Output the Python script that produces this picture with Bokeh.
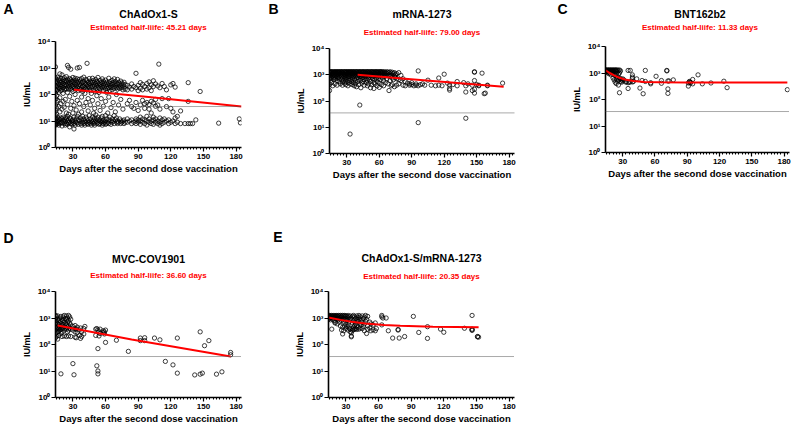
from bokeh.plotting import figure
from bokeh.layouts import column, row
from bokeh.models import Range1d, FixedTicker, Span, CustomJSTickFormatter
from bokeh.core.properties import value
from bokeh.embed import file_html
from bokeh.resources import INLINE

FONT = "Liberation Sans"
X_LABEL = "Days after the second dose vaccination"
Y_LABEL = "IU/mL"
X_MAJOR = [30, 60, 90, 120, 150, 180]
X_MINOR = list(range(15, 186, 3))
Y_MAJOR = [1, 10, 100, 1000, 10000]
THRESHOLD = 35.2

LETTERS = ["A", "B", "C", "D", "E"]
NAMES = ["ChAdOx1-S", "mRNA-1273", "BNT162b2", "MVC-COV1901", "ChAdOx1-S/mRNA-1273"]
HALF_LIVES = ["45.21", "79.00", "11.33", "36.60", "20.35"]

# (day, [IU/mL values read at that day])
A_COLS = [
    (14, [1100, 420, 300, 220, 160, 110, 70, 40, 25, 16, 12, 9.5, 8, 7]),
    (15, [360, 260, 190, 140, 90, 50, 30, 18, 12, 9, 7.5]),
    (16, [450, 300, 210, 150, 60, 14, 10, 8]),
    (17, [380, 250, 180, 120, 35, 12, 9, 7]),
    (18, [600, 330, 230, 170, 75, 22, 11, 8]),
    (19, [400, 280, 200, 140, 45, 13, 9]),
    (20, [550, 320, 230, 160, 28, 12, 8.5, 6.5]),
    (21, [360, 260, 180, 110, 55, 14, 10]),
    (22, [430, 300, 210, 150, 33, 11, 8]),
    (23, [340, 240, 170, 65, 13, 9.5, 7]),
    (24, [470, 310, 220, 160, 20, 12, 8]),
    (25, [1250, 380, 270, 190, 120, 42, 15, 10, 7.5]),
    (26, [1050, 330, 230, 160, 18, 11, 8.5]),
    (27, [400, 280, 200, 85, 13, 9, 6]),
    (28, [900, 360, 250, 170, 30, 12, 8]),
    (29, [310, 220, 150, 55, 10, 7.5]),
    (30, [440, 290, 200, 130, 20, 11, 9]),
    (31, [350, 250, 170, 38, 14, 8, 5]),
    (32, [410, 280, 190, 100, 10, 7]),
    (33, [330, 230, 160, 26, 12, 9]),
    (34, [1000, 390, 270, 180, 60, 15, 8.5]),
    (35, [300, 210, 140, 18, 11, 7.5]),
    (36, [1050, 370, 250, 170, 45, 10]),
    (37, [320, 220, 150, 13, 8]),
    (38, [400, 270, 190, 80, 22, 11, 7]),
    (39, [290, 200, 130, 15, 9]),
    (40, [450, 310, 210, 150, 35, 12, 8]),
    (41, [270, 180, 110, 10, 7]),
    (42, [370, 250, 170, 50, 14, 9]),
    (43, [1500, 330, 220, 150, 12, 8]),
    (44, [290, 200, 70, 24, 10, 7.5]),
    (45, [400, 260, 180, 16, 9]),
    (46, [320, 220, 140, 40, 12, 8]),
    (47, [280, 190, 110, 10, 7]),
    (48, [410, 290, 200, 60, 14, 9]),
    (49, [340, 230, 150, 20, 11, 8]),
    (50, [290, 200, 130, 30, 13, 9, 7]),
    (51, [370, 250, 170, 17, 10]),
    (52, [310, 220, 90, 12, 8]),
    (53, [440, 280, 190, 45, 14, 9]),
    (54, [260, 180, 120, 11, 7.5]),
    (55, [340, 230, 160, 25, 10, 8]),
    (56, [290, 200, 70, 13, 9]),
    (57, [390, 260, 180, 15, 10, 7]),
    (58, [320, 220, 140, 36, 11, 8]),
    (59, [270, 190, 9]),
    (60, [350, 240, 160, 55, 16, 10, 7.5]),
    (61, [290, 200, 120, 12, 8]),
    (62, [240, 170, 20, 9]),
    (63, [410, 270, 180, 80, 11, 8]),
    (64, [310, 210, 140, 14]),
    (65, [260, 180, 32, 10, 7.5]),
    (66, [340, 230, 150, 12, 9]),
    (67, [280, 190, 50, 10]),
    (68, [390, 250, 170, 16, 8]),
    (69, [310, 210, 22, 11]),
    (70, [260, 180, 100, 13, 9]),
    (71, [370, 240, 160, 10, 8]),
    (72, [290, 190, 40, 9]),
    (73, [250, 170, 12]),
    (74, [320, 210, 65, 10, 8]),
    (75, [270, 180, 9]),
    (76, [230, 150, 28, 10]),
    (77, [290, 190, 11, 8]),
    (78, [240, 160, 9]),
    (80, [220, 150, 45, 12, 9]),
    (82, [190, 60, 10]),
    (84, [250, 160, 35, 11, 8]),
    (86, [200, 30, 9]),
    (88, [630, 180, 50, 12, 10, 8]),
    (90, [220, 140, 25, 11, 9]),
    (92, [280, 170, 40, 14, 10, 7.5]),
    (94, [240, 150, 60, 12, 9]),
    (96, [200, 45, 30, 11, 8]),
    (98, [260, 160, 50, 15, 10, 7]),
    (100, [300, 180, 42, 28, 12, 9]),
    (102, [230, 140, 55, 20, 10, 8]),
    (104, [330, 200, 48, 14, 11, 7.5]),
    (106, [250, 65, 36, 12, 9]),
    (108, [210, 40, 10, 8]),
    (109, [1400]),
    (110, [180, 28, 13, 9, 7]),
    (112, [260, 70, 11, 8]),
    (114, [200, 12, 9]),
    (116, [150, 35, 10]),
    (118, [70, 11, 8]),
    (120, [230, 30, 9]),
    (122, [260, 22, 10]),
    (124, [190, 13, 8]),
    (126, [15, 9]),
    (129, [24, 8]),
    (133, [8]),
    (136, [280, 55, 8]),
    (138, [8]),
    (140, [8]),
    (143, [11]),
    (147, [130]),
    (164, [8.3]),
    (183, [12]),
    (184, [8.5]),
]

B_COLS = [
    (14, [1300, 1250, 1100, 900, 700, 420, 250]),
    (15, [1300, 1200, 1000, 800, 600]),
    (16, [1300, 1250, 1100, 950, 750, 500]),
    (17, [1300, 1150, 900, 380]),
    (18, [1300, 1200, 1000, 800, 650]),
    (19, [1300, 1250, 1100, 900, 700, 450]),
    (20, [1300, 1150, 950, 750]),
    (21, [1300, 1250, 1050, 850, 600, 400]),
    (22, [1300, 1200, 1000, 800]),
    (23, [1300, 1250, 1100, 900, 700, 550]),
    (24, [1300, 1150, 950, 450]),
    (25, [1300, 1250, 1050, 850, 650]),
    (26, [1300, 1200, 1000, 750, 520, 400]),
    (27, [1300, 1100, 900, 600]),
    (28, [1300, 1250, 1050, 850, 700, 480]),
    (29, [1300, 1200, 950, 750, 550, 420]),
    (30, [1300, 1250, 1100, 900, 650]),
    (31, [1300, 1150, 1000, 800, 500, 380]),
    (32, [1300, 1250, 1050, 850, 600]),
    (33, [1300, 1200, 950, 700, 450, 5.5]),
    (34, [1300, 1250, 1100, 900, 550]),
    (35, [1300, 1150, 1000, 800, 650, 420]),
    (36, [1300, 1250, 1050, 850, 500]),
    (37, [1300, 1200, 950, 700, 380]),
    (38, [1300, 1100, 900, 600, 450]),
    (39, [1300, 1250, 1000, 750, 350]),
    (40, [1300, 1150, 950, 800, 550]),
    (41, [1300, 1200, 1000, 650, 420]),
    (42, [1300, 1250, 1050, 850, 70]),
    (43, [1300, 1100, 900, 600, 320]),
    (44, [1300, 1200, 950, 750, 480]),
    (45, [1300, 1250, 1000, 800, 550]),
    (46, [1300, 1150, 900, 650, 400]),
    (47, [1300, 1200, 1050, 850]),
    (48, [1300, 1100, 950, 700, 500]),
    (49, [1300, 1250, 1000, 600, 380]),
    (50, [1300, 1150, 900, 750, 450]),
    (51, [1300, 1200, 1050, 650]),
    (52, [1300, 1100, 900, 550, 320]),
    (53, [1300, 1250, 1000, 800, 420]),
    (54, [1300, 1150, 950, 700]),
    (55, [1300, 1200, 850, 500, 300]),
    (56, [1300, 1100, 950, 650, 450]),
    (57, [1300, 1250, 1000, 750]),
    (58, [1300, 1150, 900, 550, 380]),
    (59, [1300, 1200, 1000, 700]),
    (60, [1300, 1100, 850, 480, 330]),
    (61, [1300, 1250, 950, 650]),
    (62, [1300, 1150, 900, 420]),
    (63, [1300, 1200, 1000, 750]),
    (64, [1250, 1050, 600, 380]),
    (65, [1300, 1150, 850]),
    (66, [1200, 950, 500]),
    (67, [1300, 1100, 700]),
    (68, [1250, 900, 450]),
    (69, [1200, 1000, 250]),
    (70, [1300, 850, 600]),
    (71, [1150, 950, 380]),
    (72, [1250, 750, 420]),
    (73, [1100, 650]),
    (74, [1200, 900, 350]),
    (75, [1000, 800]),
    (76, [1100, 700, 400]),
    (78, [1200, 650, 450]),
    (80, [950, 600]),
    (82, [700, 400]),
    (84, [550, 380]),
    (86, [480]),
    (88, [450, 400]),
    (90, [500, 420]),
    (92, [380]),
    (94, [450, 400]),
    (96, [1400, 380, 15]),
    (98, [420]),
    (100, [450]),
    (102, [400]),
    (105, [620]),
    (108, [400]),
    (112, [380]),
    (115, [750, 400]),
    (118, [380]),
    (120, [1050]),
    (123, [480]),
    (125, [400, 260, 300]),
    (128, [420]),
    (132, [550, 380]),
    (138, [500]),
    (140, [380, 220, 22]),
    (142, [450]),
    (146, [400, 250]),
    (148, [1300, 1250, 600, 200, 280]),
    (150, [420]),
    (152, [380, 400]),
    (155, [1150]),
    (157, [190]),
    (158, [200]),
    (160, [380, 400]),
    (174, [480]),
]

C_COLS = [
    (14, [1300, 1250, 1200, 1100]),
    (15, [1300, 1250, 1150]),
    (16, [1300, 1200, 1050]),
    (17, [1300, 1250, 1100, 950]),
    (18, [1300, 1200, 1000]),
    (19, [1300, 1250, 1150, 850]),
    (20, [1300, 1200, 1050]),
    (21, [1300, 1250, 1100, 900, 650]),
    (22, [1300, 1150, 1000, 550]),
    (23, [1300, 1250, 800, 450]),
    (24, [1300, 1200, 950, 600, 400]),
    (25, [1300, 1100, 700, 500]),
    (26, [1250, 900, 550, 350]),
    (27, [1300, 1000, 650, 180]),
    (28, [1200, 600, 480]),
    (29, [550, 450]),
    (30, [600, 500]),
    (31, [550]),
    (33, [450, 480]),
    (35, [1250, 430, 260]),
    (36, [450]),
    (37, [1250, 460]),
    (39, [850, 700, 620, 460]),
    (40, [480]),
    (43, [600]),
    (46, [270]),
    (48, [520]),
    (49, [165]),
    (51, [1250, 480]),
    (56, [430, 390]),
    (61, [750]),
    (66, [520, 410]),
    (71, [1200, 1250]),
    (72, [250, 170, 500]),
    (73, [500]),
    (77, [550]),
    (91, [320, 420]),
    (92, [480, 460]),
    (93, [450, 420]),
    (95, [570, 390]),
    (100, [850]),
    (104, [390]),
    (112, [420]),
    (124, [490]),
    (127, [280]),
    (183, [235]),
]

D_COLS = [
    (14, [1250, 1000, 800, 600, 450, 350, 250, 180]),
    (15, [1100, 700, 500, 380, 280, 200]),
    (16, [1200, 900, 600, 420, 300, 160]),
    (17, [800, 550, 400, 320, 220]),
    (18, [1000, 650, 450, 350]),
    (19, [1150, 750, 500, 380, 260, 7.8]),
    (20, [900, 600, 420, 300, 200]),
    (21, [1100, 800, 550, 400]),
    (22, [1250, 700, 480, 350, 210]),
    (23, [950, 600, 420]),
    (24, [1200, 850, 550, 380, 200]),
    (25, [1000, 700, 450, 300]),
    (26, [1250, 800, 500, 350, 210]),
    (27, [1100, 650, 420]),
    (28, [900, 550, 380, 200]),
    (30, [480, 350, 19]),
    (31, [7.2]),
    (32, [520, 400, 300, 190]),
    (33, [380, 180]),
    (34, [450, 280]),
    (36, [350, 220]),
    (37, [420, 170]),
    (38, [300, 200]),
    (40, [400, 250]),
    (41, [480]),
    (51, [380, 220]),
    (52, [400, 15.7]),
    (53, [350, 70, 10, 7.8]),
    (54, [300, 210]),
    (55, [380, 260]),
    (58, [330, 280]),
    (59, [300, 250]),
    (60, [350, 120]),
    (70, [145]),
    (81, [55]),
    (92, [140, 175]),
    (96, [180, 140]),
    (105, [175]),
    (110, [150]),
    (115, [23]),
    (122, [17]),
    (126, [8.3, 175]),
    (142, [7.1]),
    (147, [300, 7.6]),
    (149, [8.3]),
    (151, [90]),
    (155, [140]),
    (162, [7.6]),
    (167, [9.3]),
    (175, [41, 50]),
]

E_COLS = [
    (14, [1250, 1150, 1000, 900]),
    (15, [1250, 1100, 950]),
    (16, [1200, 1050, 850]),
    (17, [1250, 1150, 380]),
    (18, [1200, 1000, 900]),
    (19, [1250, 1100, 800]),
    (20, [1200, 1050, 700, 650]),
    (21, [1250, 1150, 950]),
    (22, [1200, 1000, 600]),
    (23, [1250, 1100, 850]),
    (24, [1200, 950, 700]),
    (25, [1250, 1050, 500]),
    (26, [1200, 1100, 800, 350]),
    (27, [1250, 900, 250, 450]),
    (28, [1200, 1000, 700, 330]),
    (29, [1250, 1100, 500, 850]),
    (30, [1200, 950, 600, 400]),
    (31, [1150, 800, 480]),
    (32, [1250, 1000, 550, 350]),
    (33, [1100, 700, 420]),
    (34, [1200, 900, 380, 300]),
    (35, [1000, 280, 210, 195]),
    (36, [1150, 650, 400, 340]),
    (37, [1250, 800, 450, 360]),
    (38, [1100, 700, 520, 380]),
    (39, [950, 600, 400]),
    (40, [1200, 850, 500, 370]),
    (41, [1050, 750, 450]),
    (42, [1250, 900, 380]),
    (43, [1100, 650, 420]),
    (44, [800, 550]),
    (45, [1200, 700, 400]),
    (46, [950, 480]),
    (47, [1100, 600, 330]),
    (48, [1250, 750]),
    (49, [900, 260]),
    (50, [1150, 500, 380]),
    (52, [700, 420]),
    (53, [600, 330]),
    (55, [550, 360]),
    (57, [330, 650]),
    (58, [400]),
    (63, [1100, 1250, 550]),
    (64, [1000]),
    (67, [1000]),
    (69, [330]),
    (73, [175]),
    (78, [350, 370]),
    (79, [175]),
    (84, [200]),
    (92, [1150]),
    (97, [285]),
    (105, [470, 170]),
    (117, [380]),
    (120, [290]),
    (139, [410]),
    (146, [380, 360, 340, 1250]),
    (151, [200, 195]),
    (152, [190]),
]

# fitted decay curves
A_FIT_DAYS = [31, 102, 185]
A_FIT_IU = [150, 78, 35]
B_FIT_DAYS = [40, 78, 175]
B_FIT_IU = [1000, 740, 350]
C_FIT_DAYS = [14, 18, 22, 27, 32, 40, 50, 65, 90, 183]
C_FIT_IU = [1250, 1000, 820, 660, 570, 500, 460, 445, 440, 440]
D_FIT_DAYS = [16, 84, 175]
D_FIT_IU = [520, 155, 35]
E_FIT_DAYS = [14, 25, 35, 48, 65, 80, 110, 152]
E_FIT_IU = [1050, 850, 720, 620, 550, 510, 470, 445]

SUP_CODE = """
const sup = ["\u2070", "\u00b9", "\u00b2", "\u00b3", "\u2074"];
const e = Math.round(Math.log10(tick));
return "10" + sup[e];
"""


def make_header(idx, w, hh, bl, br, letter_right, letter_y, title_x, title_y, sub_y):
    fw = w - bl - br
    h = figure(width=w, height=hh, x_range=Range1d(0, fw), y_range=Range1d(hh, 0),
               output_backend="svg", toolbar_location=None,
               x_axis_location=None, y_axis_location="left",
               min_border_left=bl, min_border_right=br, min_border_top=0, min_border_bottom=0)
    h.outline_line_color = None
    h.grid.visible = False
    h.background_fill_color = "white"
    h.border_fill_color = "white"
    # panel letter shown as the single label of an invisible left axis
    la = h.yaxis[0]
    la.ticker = FixedTicker(ticks=[letter_y], minor_ticks=[])
    la.formatter = CustomJSTickFormatter(code='return "%s";' % LETTERS[idx])
    la.axis_line_color = None
    la.major_tick_line_color = None
    la.minor_tick_line_color = None
    la.major_tick_in = 0
    la.major_tick_out = 0
    la.minor_tick_in = 0
    la.minor_tick_out = 0
    la.major_label_standoff = bl - letter_right
    la.major_label_text_font = FONT
    la.major_label_text_font_size = "14px"
    la.major_label_text_font_style = "bold"
    la.major_label_text_color = "black"

    h.text(x=[title_x], y=[title_y], text=[NAMES[idx]],
           text_align="center", text_baseline="middle", text_font=value(FONT),
           text_font_size="10.5px", text_font_style="bold", text_color="black")
    h.text(x=[title_x], y=[sub_y],
           text=["Estimated half-liife: " + HALF_LIVES[idx] + " days"],
           text_align="center", text_baseline="middle", text_font=value(FONT),
           text_font_size="8px", text_font_style="bold", text_color="#ff0000")
    return h


def make_plot(cols, fit_x, fit_y, w, h, bl, br, bt, bb):
    p = figure(width=w, height=h, x_range=Range1d(14, 185), y_range=Range1d(1, 10000),
               y_axis_type="log", output_backend="svg", toolbar_location=None,
               min_border_left=bl, min_border_right=br, min_border_top=bt, min_border_bottom=bb)
    p.outline_line_color = None
    p.grid.visible = False
    p.background_fill_color = "white"
    p.border_fill_color = "white"

    xs = [d for d, vals in cols for v in vals]
    ys = [v for d, vals in cols for v in vals]

    p.add_layout(Span(location=THRESHOLD, dimension="width", line_color="#555555",
                      line_dash="1 1", line_width=1))
    p.scatter(xs, ys, marker="circle", size=4.3, fill_color=None,
              line_color="black", line_width=0.75)
    p.line(fit_x, fit_y, line_color="#ff0000", line_width=2)

    xa = p.xaxis[0]
    xa.ticker = FixedTicker(ticks=X_MAJOR, minor_ticks=X_MINOR)
    xa.axis_label = X_LABEL
    ya = p.yaxis[0]
    ya.ticker = FixedTicker(ticks=Y_MAJOR, minor_ticks=[])
    ya.formatter = CustomJSTickFormatter(code=SUP_CODE)
    ya.axis_label = Y_LABEL
    for ax in (xa, ya):
        ax.axis_line_width = 1.6
        ax.axis_line_color = "black"
        ax.major_tick_line_width = 1.2
        ax.major_tick_line_color = "black"
        ax.major_tick_in = 0
        ax.major_tick_out = 4
        ax.minor_tick_line_width = 1
        ax.minor_tick_line_color = "black"
        ax.minor_tick_in = 0
        ax.minor_tick_out = 2
        ax.major_label_text_font = FONT
        ax.major_label_text_font_style = "bold"
        ax.major_label_text_font_size = "8px"
        ax.major_label_text_color = "black"
        ax.axis_label_text_font = FONT
        ax.axis_label_text_font_style = "bold"
        ax.axis_label_text_color = "black"
    xa.axis_label_text_font_size = "9.5px"
    xa.major_label_standoff = 2
    xa.axis_label_standoff = 1
    ya.axis_label_text_font_size = "9px"
    ya.major_label_standoff = 1
    ya.axis_label_standoff = 3
    return p


hA = make_header(0, 265, 35, 54, 24, 12, 8, 93.5, 13.3, 26.5)
pA = make_plot(A_COLS, A_FIT_DAYS, A_FIT_IU, 265, 179, 54, 24, 6, 67)
hB = make_header(1, 289, 42, 63, 40, 12, 8.3, 93, 13.7, 32)
pB = make_plot(B_COLS, B_FIT_DAYS, B_FIT_IU, 289, 172, 63, 40, 6, 61)
hC = make_header(2, 239, 40, 49, 4, 11, 8.3, 95.5, 13.7, 27)
pC = make_plot(C_COLS, C_FIT_DAYS, C_FIT_IU, 239, 174, 49, 4, 6, 62)
hD = make_header(3, 265, 71, 54, 24, 12, 23, 93.5, 44.5, 61)
pD = make_plot(D_COLS, D_FIT_DAYS, D_FIT_IU, 265, 143, 54, 24, 6, 31)
hE = make_header(4, 289, 71, 63, 40, 17, 22, 93, 43, 62)
pE = make_plot(E_COLS, E_FIT_DAYS, E_FIT_IU, 289, 143, 63, 40, 6, 31)

layout = column(
    row(column(hA, pA), column(hB, pB), column(hC, pC)),
    row(column(hD, pD), column(hE, pE)),
)
open("out.html", "w").write(file_html(layout, INLINE))
